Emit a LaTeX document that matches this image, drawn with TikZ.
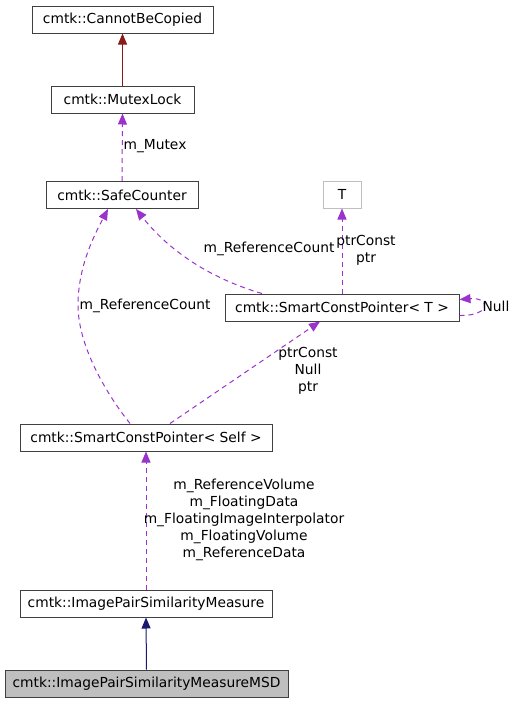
\documentclass[tikz,border=0pt]{standalone}
\usepackage{fontspec}
\setmainfont{DejaVu Sans}
\usetikzlibrary{arrows.meta}
\definecolor{boxgray}{HTML}{404040}
\definecolor{tgray}{HTML}{BFBFBF}
\definecolor{usepurple}{HTML}{9A32CD}
\definecolor{inhred}{HTML}{8B1A1A}
\definecolor{inhblue}{HTML}{191970}
\begin{document}
\begin{tikzpicture}[x=1pt,y=-1pt,font=\fontsize{13.8}{17}\selectfont,
    cls/.style={draw=boxgray,line width=1pt,minimum height=27pt,inner sep=0pt},
    usage/.style={draw=usepurple,line width=1pt,dash pattern=on 5pt off 4pt,
      -{Triangle[length=11pt,width=9pt]}},
    inherit/.style={line width=1pt,-{Triangle[length=11pt,width=9pt]}},
    lbl/.style={inner sep=0pt,align=center}]
    \useasboundingbox (0,0) rectangle (515,704);

    % classes
    \node[cls,minimum width=181pt] (cbc) at (122.5,19.5) {cmtk::CannotBeCopied};
    \node[cls,minimum width=143pt] (mlock) at (122.5,99.5) {cmtk::MutexLock};
    \node[cls,minimum width=152pt] (safe) at (122,195) {cmtk::SafeCounter};
    \node[cls,draw=tgray,minimum width=38pt] (tcls) at (342,194.5) {T};
    \node[cls,minimum width=234pt] (scpT) at (342,307.5) {cmtk::SmartConstPointer< T >};
    \node[cls,minimum width=252pt] (scpSelf) at (146,437.5) {cmtk::SmartConstPointer< Self >};
    \node[cls,minimum width=252pt] (ipsm) at (146,603.5) {cmtk::ImagePairSimilarityMeasure};
    \node[cls,fill=tgray,minimum width=283pt] (msd) at (146.5,683.5) {cmtk::ImagePairSimilarityMeasureMSD};

    % inheritance
    \draw[inherit,inhred] (mlock.north) -- (cbc.south);
    \draw[inherit,inhblue] (msd.north) -- (ipsm.south);

    % usage
    \draw[usage] (safe.north) -- (mlock.south);
    \node[lbl] (lmutex) at (155,146) {m\_Mutex};

    \draw[usage] (scpT.north) -- (tcls.south);
    \node[lbl] (lptr) at (366,250) {ptrConst\\ptr};

    \draw[usage] ([xshift=-80pt]scpT.north) .. controls (212,279) and (170,252) .. ([xshift=14pt]safe.south);
    \node[lbl] (lrefT) at (269,249) {m\_ReferenceCount};

    \draw[usage] ([xshift=-16pt]scpSelf.north) .. controls (105,392) and (78,345) .. (78,305)
      .. controls (78,265) and (96,232) .. ([xshift=-14pt]safe.south);
    \node[lbl] (lrefSelf) at (145,306) {m\_ReferenceCount};

    \draw[usage] ([yshift=-8pt]scpT.east) .. controls (492,316) and (490,297) .. ([yshift=8pt]scpT.east);
    \node[lbl] (lnull) at (496,306) {Null};

    \draw[usage] ([xshift=24pt]scpSelf.north) -- ([xshift=-22pt]scpT.south);
    \node[lbl] (lscp) at (308,371) {ptrConst\\Null\\ptr};

    \draw[usage] (ipsm.north) -- (scpSelf.south);
    \node[lbl] (lmembers) at (244,520) {m\_ReferenceVolume\\m\_FloatingData\\m\_FloatingImageInterpolator\\m\_FloatingVolume\\m\_ReferenceData};
\end{tikzpicture}
\end{document}
